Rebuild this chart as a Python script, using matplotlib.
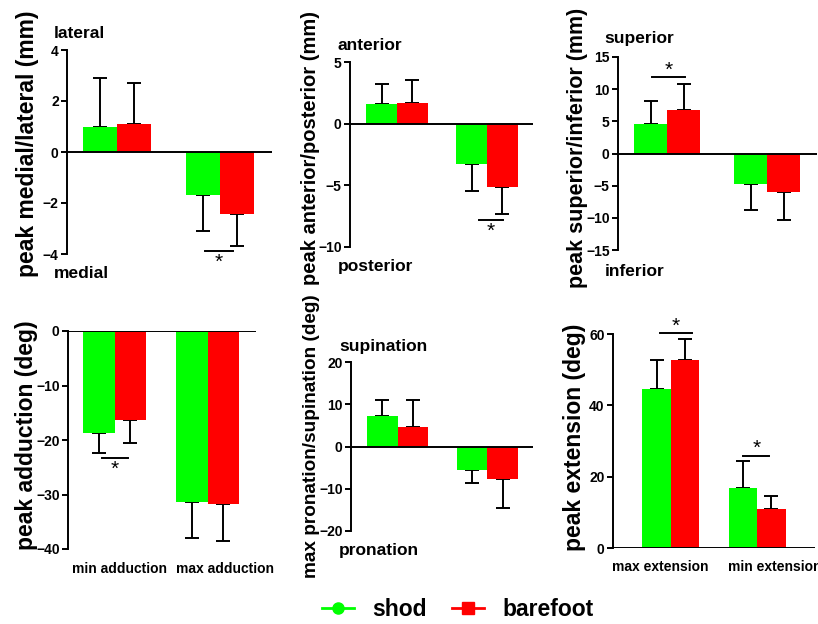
import matplotlib
matplotlib.use("Agg")
import matplotlib.pyplot as plt
from matplotlib.lines import Line2D
from matplotlib.transforms import blended_transform_factory

plt.rcParams['font.family'] = ['Liberation Sans', 'DejaVu Sans']

GREEN = '#00ff00'
RED = '#ff0000'

# means and one-sided SD for shod / barefoot, two groups per panel
p1_shod, p1_shod_err = [1.0, -1.7], [1.9, 1.4]
p1_bare, p1_bare_err = [1.1, -2.45], [1.6, 1.25]

p2_shod, p2_shod_err = [1.6, -3.25], [1.6, 2.2]
p2_bare, p2_bare_err = [1.7, -5.15], [1.85, 2.2]

p3_shod, p3_shod_err = [4.55, -4.7], [3.55, 4.1]
p3_bare, p3_bare_err = [6.7, -6.0], [4.1, 4.4]

p4_shod, p4_shod_err = [-18.8, -31.4], [3.5, 6.6]
p4_bare, p4_bare_err = [-16.4, -31.7], [4.2, 6.9]

p5_shod, p5_shod_err = [7.3, -5.5], [3.8, 3.2]
p5_bare, p5_bare_err = [4.6, -7.8], [6.5, 6.7]

p6_shod, p6_shod_err = [44.6, 16.8], [8.2, 7.5]
p6_bare, p6_bare_err = [52.6, 11.0], [6.1, 3.5]

p4_cats = ['min adduction', 'max adduction']
p6_cats = ['max extension', 'min extension']

W, H = 818, 624
fig = plt.figure(figsize=(W / 100, H / 100), dpi=100)


def px_axes(left, top, width, height):
    return fig.add_axes([left / W, (H - top - height) / H, width / W, height / H])


def panel(ax, shod, shod_err, bare, bare_err, ylim, yticks, xlim, bw=0.33):
    for vals, errs, off, col in [(shod, shod_err, -bw / 2, GREEN), (bare, bare_err, bw / 2, RED)]:
        xs = [i + off for i in range(len(vals))]
        ax.bar(xs, vals, width=bw, color=col, edgecolor='none', zorder=2)
        lo = [e if v < 0 else 0 for v, e in zip(vals, errs)]
        hi = [e if v >= 0 else 0 for v, e in zip(vals, errs)]
        ax.errorbar(xs, vals, yerr=[lo, hi], fmt='none', ecolor='black',
                    elinewidth=1.4, capsize=5, capthick=1.4, zorder=1)
    ax.axhline(0, color='black', lw=1.4, zorder=3)
    ax.set_xlim(*xlim)
    ax.set_ylim(*ylim)
    ax.set_yticks(yticks)
    ax.set_xticks([])
    for s in ['top', 'right', 'bottom']:
        ax.spines[s].set_visible(False)
    ax.spines['left'].set_linewidth(1.4)
    ax.tick_params(axis='y', width=1.4, length=4, labelsize=10, pad=2)
    for t in ax.get_yticklabels():
        t.set_fontweight('bold')
    ax.patch.set_alpha(0)


def sig(ax, x0, x1, y, below=True):
    ax.plot([x0, x1], [y, y], color='black', lw=1.4, clip_on=False)
    dy = -8 if below else 5
    ax.annotate('*', xy=((x0 + x1) / 2, y), xytext=(0, dy), textcoords='offset points',
                ha='center', va='center', fontsize=15, annotation_clip=False)


def side(x, y, s):
    fig.text(x / W, 1 - y / H, s, fontsize=12.5, fontweight='bold', ha='left', va='center')


def ylab(x, y, s, size):
    fig.text(x / W, 1 - y / H, s, fontsize=size, fontweight='bold', rotation=90,
             ha='center', va='center')


# top row
ax1 = px_axes(67, 50, 205, 204)
panel(ax1, p1_shod, p1_shod_err, p1_bare, p1_bare_err, (-4, 4), [-4, -2, 0, 2, 4], (-0.49, 1.5))
sig(ax1, 0.85, 1.12, -3.9)
ylab(28, 144, 'peak medial/lateral (mm)', 16.5)
side(54, 34, 'lateral')
side(54, 274, 'medial')

ax2 = px_axes(350, 62, 183, 185)
panel(ax2, p2_shod, p2_shod_err, p2_bare, p2_bare_err, (-10, 5), [-10, -5, 0, 5], (-0.52, 1.51), bw=0.34)
sig(ax2, 0.91, 1.18, -7.8)
ylab(311, 148, 'peak anterior/posterior (mm)', 14.5)
side(337, 46, 'anterior')
side(338, 266, 'posterior')

ax3 = px_axes(618, 57, 199, 193)
panel(ax3, p3_shod, p3_shod_err, p3_bare, p3_bare_err, (-15, 15), [-15, -10, -5, 0, 5, 10, 15], (-0.49, 1.5))
sig(ax3, -0.15, 0.18, 11.9, below=False)
ylab(577, 148, 'peak superior/inferior (mm)', 15.5)
side(604, 39, 'superior')
side(605, 272, 'inferior')

# bottom row
ax4 = px_axes(68, 331, 188, 218)
panel(ax4, p4_shod, p4_shod_err, p4_bare, p4_bare_err, (-40, 0), [-40, -30, -20, -10, 0], (-0.5, 1.52), bw=0.34)
sig(ax4, -0.13, 0.14, -23.3)
ylab(27, 435, 'peak adduction (deg)', 16.5)

ax5 = px_axes(351, 362, 182, 169)
panel(ax5, p5_shod, p5_shod_err, p5_bare, p5_bare_err, (-20, 20), [-20, -10, 0, 10, 20], (-0.52, 1.51), bw=0.34)
ylab(311, 436, 'max pronation/supination (deg)', 13.7)
side(339, 347, 'supination')
side(339, 550, 'pronation')

ax6 = px_axes(613, 334, 202, 214)
panel(ax6, p6_shod, p6_shod_err, p6_bare, p6_bare_err, (0, 60), [0, 20, 40, 60], (-0.67, 1.67))
sig(ax6, -0.12, 0.24, 60.2, below=False)
sig(ax6, 0.84, 1.14, 25.9, below=False)
ylab(574, 437, 'peak extension (deg)', 16.5)

# category labels under the bottom-left and bottom-right panels
for ax, cats, shifts in [(ax4, p4_cats, [0.05, 0.19]), (ax6, p6_cats, [-0.12, 0.2])]:
    tr = blended_transform_factory(ax.transData, ax.transAxes)
    for i, c in enumerate(cats):
        ax.text(i + shifts[i], -0.09, c, transform=tr, ha='center', va='center',
                fontsize=10, fontweight='bold', family=['Liberation Sans Narrow', 'Liberation Sans'],
                clip_on=False)

handles = [Line2D([], [], color=GREEN, lw=2, marker='o', markersize=8),
           Line2D([], [], color=RED, lw=2, marker='s', markersize=8)]
fig.legend(handles, ['shod', 'barefoot'], loc='center', bbox_to_anchor=(458 / W, 1 - 610 / H),
           ncol=2, frameon=False, handlelength=1.4, handletextpad=0.8, columnspacing=1.1,
           prop={'size': 16.5, 'weight': 'bold'})

fig.savefig('out.png', dpi=100)
